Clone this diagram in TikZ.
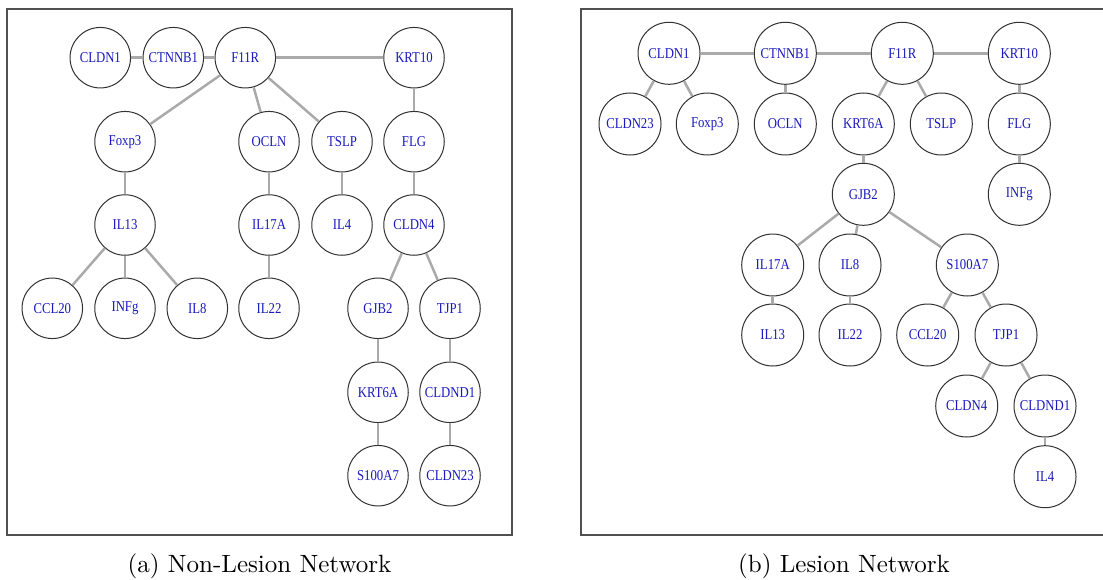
\documentclass[tikz,border=0pt]{standalone}
\usepackage{fontspec}
\newfontfamily\nodefont[FakeStretch=0.85]{Liberation Serif}
\definecolor{labelblue}{RGB}{25,25,190}
\definecolor{edgegray}{RGB}{170,170,170}
\definecolor{framegray}{RGB}{80,80,80}
\definecolor{ringgray}{RGB}{50,50,50}
\begin{document}
\begin{tikzpicture}[x=0.4pt,y=-0.4pt,
  gene/.style={circle,draw=ringgray,line width=0.4pt,fill=white,inner sep=0pt,
    minimum size=24.2pt,font=\nodefont\fontsize{6}{7}\selectfont,text=labelblue},
  geneb/.style={gene,minimum size=24.8pt},
  link/.style={draw=edgegray,line width=1pt},
  frame/.style={draw=framegray,line width=0.6pt},
  caption/.style={font=\fontsize{10}{12}\selectfont,inner sep=0pt}]
\useasboundingbox (0,0) rectangle (1103,579);
% frames
\draw[frame] (7,9) rectangle (512,535);
\draw[frame] (1110,9) -- (581,9) -- (581,535) -- (1110,535);
% ---------- left: Non-Lesion ----------
\node[gene] (a1) at (100.3,57.7) {CLDN1};
\node[gene] (a2) at (173.3,57.7) {CTNNB1};
\node[gene] (a3) at (245.3,57.7) {F11R};
\node[gene] (a4) at (414,57.7) {KRT10};
\node[gene] (a5) at (125,141.7) {Foxp3};
\node[gene] (a6) at (269,141.7) {OCLN};
\node[gene] (a7) at (342,141.7) {TSLP};
\node[gene] (a8) at (414,141.7) {FLG};
\node[gene] (a9) at (125,225) {IL13};
\node[gene] (a10) at (269,225) {IL17A};
\node[gene] (a11) at (342,225) {IL4};
\node[gene] (a12) at (414,225) {CLDN4};
\node[gene] (a13) at (52.3,308.3) {CCL20};
\node[gene] (a14) at (125,308.3) {INFg};
\node[gene] (a15) at (197.3,308.3) {IL8};
\node[gene] (a16) at (269,308.3) {IL22};
\node[gene] (a17) at (378,308.3) {GJB2};
\node[gene] (a18) at (450,308.3) {TJP1};
\node[gene] (a19) at (378,392.3) {KRT6A};
\node[gene] (a20) at (450,392.3) {CLDND1};
\node[gene] (a21) at (378,475.7) {S100A7};
\node[gene] (a22) at (450,475.7) {CLDN23};
\foreach \u/\v in {a1/a2,a2/a3,a3/a4,a3/a5,a3/a6,a3/a7,a4/a8,a5/a9,a6/a10,a7/a11,a8/a12,
  a9/a13,a9/a14,a9/a15,a10/a16,a12/a17,a12/a18,a17/a19,a18/a20,a19/a21,a20/a22}
  \draw[link] (\u) -- (\v);
% ---------- right: Lesion ----------
\node[geneb] (b1) at (669,53.3) {CLDN1};
\node[geneb] (b2) at (785.3,53.3) {CTNNB1};
\node[geneb] (b3) at (902.3,53.3) {F11R};
\node[geneb] (b4) at (1019.3,53.3) {KRT10};
\node[geneb] (b5) at (630,124) {CLDN23};
\node[geneb] (b6) at (707.3,124) {Foxp3};
\node[geneb] (b7) at (785.3,124) {OCLN};
\node[geneb] (b8) at (863.3,124) {KRT6A};
\node[geneb] (b9) at (941.3,124) {TSLP};
\node[geneb] (b10) at (1019.3,124) {FLG};
\node[geneb] (b11) at (863.3,194.3) {GJB2};
\node[geneb] (b12) at (1019.3,194.3) {INFg};
\node[geneb] (b13) at (772.7,265) {IL17A};
\node[geneb] (b14) at (850,265) {IL8};
\node[geneb] (b15) at (967.3,265) {S100A7};
\node[geneb] (b16) at (772.7,335) {IL13};
\node[geneb] (b17) at (850,335) {IL22};
\node[geneb] (b18) at (927.7,335) {CCL20};
\node[geneb] (b19) at (1006,335) {TJP1};
\node[geneb] (b20) at (966.7,406) {CLDN4};
\node[geneb] (b21) at (1045,406) {CLDND1};
\node[geneb] (b22) at (1045,476.7) {IL4};
\foreach \u/\v in {b1/b2,b2/b3,b3/b4,b1/b5,b1/b6,b2/b7,b3/b8,b3/b9,b4/b10,b8/b11,b10/b12,
  b11/b13,b11/b14,b11/b15,b13/b16,b14/b17,b15/b18,b15/b19,b19/b20,b19/b21,b21/b22}
  \draw[link] (\u) -- (\v);
% captions
\node[caption] (capa) at (259.5,566) {(a) Non-Lesion Network};
\node[caption] (capb) at (844,566) {(b) Lesion Network};
\end{tikzpicture}
\end{document}
